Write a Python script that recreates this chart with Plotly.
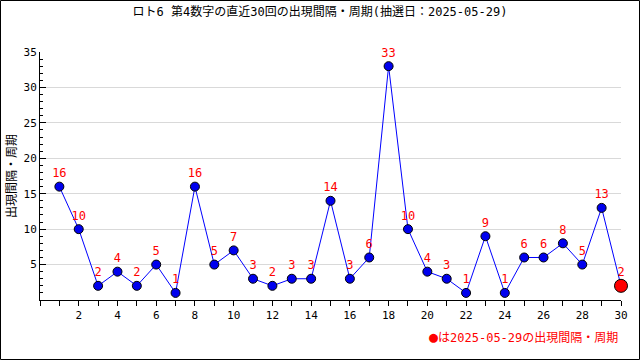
import plotly.graph_objects as go

draws = list(range(1, 31))
intervals = [16, 10, 2, 4, 2, 5, 1, 16, 5, 7, 3, 2, 3, 3, 14, 3, 6, 33, 10, 4, 3, 1, 9, 1, 6, 6, 8, 5, 13, 2]
x_tick_vals = list(range(2, 31, 2))
y_tick_vals = [5, 10, 15, 20, 25, 30, 35]
title_text = "ロト6 第4数字の直近30回の出現間隔・周期(抽選日：2025-05-29)"
y_title = "出現間隔・周期"
note_mark = "●"
note_text = "は2025-05-29の出現間隔・周期"

FONT = "DejaVu Sans Mono, Noto Sans CJK JP, sans-serif"

fig = go.Figure()
fig.add_trace(go.Scatter(
    x=draws, y=intervals, mode="lines+markers+text",
    text=[str(v) for v in intervals], textposition="top center",
    textfont=dict(color="red", size=12, family=FONT),
    line=dict(color="#0000ff", width=1),
    marker=dict(color="#0000ee", size=9, line=dict(color="black", width=1)),
    showlegend=False, cliponaxis=False, hoverinfo="skip",
))
fig.add_trace(go.Scatter(
    x=[draws[-1]], y=[intervals[-1]], mode="markers",
    marker=dict(color="red", size=13, line=dict(color="black", width=1)),
    showlegend=False, cliponaxis=False, hoverinfo="skip",
))

W, H = 640, 360
L, R, T, B = 40, 19, 52, 60
pw, ph = W - L - R, H - T - B

fig.update_layout(
    width=W, height=H,
    margin=dict(l=L, r=R, t=T, b=B),
    paper_bgcolor="white", plot_bgcolor="white",
    font=dict(family=FONT, size=11, color="black"),
    title=dict(text=title_text, x=0.5, xanchor="center", y=1 - 12 / H, yanchor="middle",
               font=dict(size=12, family=FONT)),
    xaxis=dict(range=[0, 30], tickvals=x_tick_vals, ticks="outside", ticklen=5,
               tickcolor="black", showgrid=False, showline=True, linecolor="black",
               zeroline=False, tickfont=dict(size=11),
               minor=dict(dtick=1, ticks="outside", ticklen=5, tickcolor="black", showgrid=False)),
    yaxis=dict(range=[0, 35], tickvals=y_tick_vals, ticks="inside", ticklen=6,
               tickcolor="black", showgrid=True, gridcolor="#d9d9d9", showline=True,
               linecolor="black", zeroline=False, tickfont=dict(size=11),
               title=dict(text=y_title, font=dict(size=12), standoff=4),
               minor=dict(dtick=1, ticks="inside", ticklen=3, tickcolor="black", showgrid=False)),
    shapes=[dict(type="rect", xref="paper", yref="paper",
                 x0=(-L + 0.5) / pw, x1=1 + (R - 0.5) / pw,
                 y0=(-B + 0.5) / ph, y1=1 + (T - 0.5) / ph,
                 line=dict(color="black", width=1), fillcolor="rgba(0,0,0,0)")],
    annotations=[dict(text=f"<span style='font-size:15px'>{note_mark}</span>{note_text}",
                      xref="paper", yref="paper",
                      x=1 + (620 - (W - R)) / pw, y=-(337 - (H - B)) / ph,
                      xanchor="right", yanchor="middle", showarrow=False,
                      font=dict(color="red", size=12, family=FONT))],
)

fig.write_html("out.html", config={"displayModeBar": False},
               post_script="document.body.style.margin='0';document.body.style.overflow='hidden';")
